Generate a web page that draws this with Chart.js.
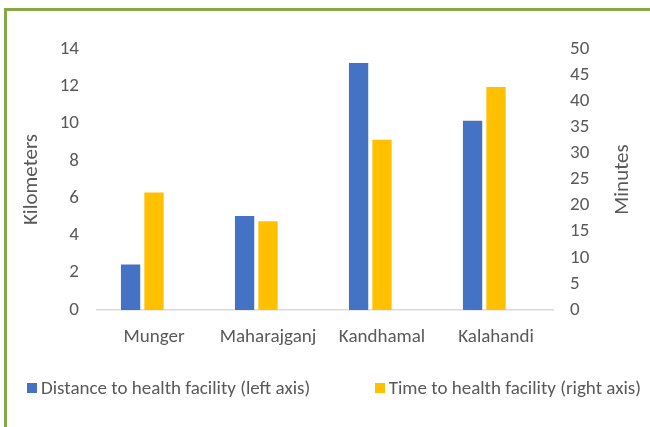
<!DOCTYPE html>
<html>
<head>
<meta charset="utf-8">
<script src="https://cdn.jsdelivr.net/npm/chart.js@4/dist/chart.umd.min.js"></script>
<style>
  body { margin: 0; background: #fff; }
  #wrap { position: relative; width: 650px; height: 427px; overflow: hidden; background: #fff; }
  #frame { position: absolute; left: 4px; top: 8px; right: -10px; bottom: -10px;
           border-top: 3px solid #86a844; border-left: 3px solid #86a844; }
  #chart { position: absolute; left: 0; top: 0; }
  #legend { position: absolute; left: 27px; right: 9px; top: 376px; display: flex;
            justify-content: space-between; font-family: Carlito, Calibri, Lato, sans-serif;
            font-size: 19px; color: #595959; }
  .item { display: flex; align-items: center; white-space: nowrap; }
  .box { width: 10px; height: 10px; margin-right: 4px; }
</style>
</head>
<body>
<div id="wrap">
  <div id="frame"></div>
  <canvas id="chart" width="650" height="427"></canvas>
  <div id="legend"></div>
</div>
<script>
const districts = ["Munger", "Maharajganj", "Kandhamal", "Kalahandi"];
const distanceKm = [2.5, 5.1, 13.3, 10.2];
const timeMin = [22.7, 17.2, 32.8, 42.9];
const kmTicks = [0, 2, 4, 6, 8, 10, 12, 14];
const minTicks = [0, 5, 10, 15, 20, 25, 30, 35, 40, 45, 50];

const FONT = "Carlito, Calibri, Lato, sans-serif";
const TEXT = "#595959";

// right axis title reads bottom-to-top like the left one
const rightTitle = {
  id: "rightTitle",
  afterDraw(chart) {
    const { ctx, chartArea } = chart;
    ctx.save();
    ctx.translate(623, (chartArea.top + chartArea.bottom) / 2);
    ctx.rotate(-Math.PI / 2);
    ctx.font = "21px " + FONT;
    ctx.fillStyle = TEXT;
    ctx.textAlign = "center";
    ctx.textBaseline = "middle";
    ctx.fillText("Minutes", 0, 0);
    ctx.restore();
  },
};

try {
  const ctx = document.getElementById("chart").getContext("2d");
  const chart = new Chart(ctx, {
    type: "bar",
    data: {
      labels: districts,
      datasets: [
        {
          label: "Distance to health facility (left axis)",
          data: distanceKm,
          yAxisID: "yKm",
          backgroundColor: "#4472C4",
          borderColor: "rgba(255,255,255,0.5)",
          borderWidth: 1,
        },
        {
          label: "Time to health facility (right axis)",
          data: timeMin,
          yAxisID: "yMin",
          backgroundColor: "#FFC000",
          borderColor: "rgba(255,255,255,0.5)",
          borderWidth: 1,
        },
        {
          // empty third series, keeps the bars left of the category centre like the original
          label: "",
          data: districts.map(() => null),
          yAxisID: "yKm",
        },
      ],
    },
    options: {
      responsive: false,
      devicePixelRatio: 1,
      animation: false,
      layout: { padding: { top: 49, bottom: 67, left: 0, right: 0 } },
      datasets: { bar: { categoryPercentage: 0.616, barPercentage: 0.91 } },
      plugins: { legend: { display: false }, tooltip: { enabled: false } },
      scales: {
        x: {
          grid: { display: false, drawTicks: false },
          border: { display: true, color: "#D9D9D9", width: 1.5 },
          ticks: { color: TEXT, font: { family: FONT, size: 19 }, padding: 16 },
          afterFit: (s) => { s.height = 50; },
        },
        yKm: {
          position: "left",
          min: 0,
          max: 14,
          afterBuildTicks: (s) => { s.ticks = kmTicks.map((v) => ({ value: v })); },
          grid: { display: false, drawTicks: false },
          border: { display: false },
          ticks: { color: TEXT, font: { family: FONT, size: 19 }, padding: 18 },
          title: {
            display: true, text: "Kilometers", color: TEXT,
            font: { family: FONT, size: 21 }, padding: { top: 19, bottom: 0 },
          },
          afterFit: (s) => { s.width = 97; },
        },
        yMin: {
          position: "right",
          min: 0,
          max: 50,
          afterBuildTicks: (s) => { s.ticks = minTicks.map((v) => ({ value: v })); },
          grid: { display: false, drawTicks: false },
          border: { display: false },
          ticks: { color: TEXT, font: { family: FONT, size: 19 }, padding: 17 },
          afterFit: (s) => { s.width = 97; },
        },
      },
    },
    plugins: [rightTitle],
  });

  // html legend from the first two series
  const legend = document.getElementById("legend");
  chart.data.datasets.slice(0, 2).forEach((ds) => {
    const item = document.createElement("div");
    item.className = "item";
    const box = document.createElement("span");
    box.className = "box";
    box.style.background = ds.backgroundColor;
    const txt = document.createElement("span");
    txt.textContent = ds.label;
    item.appendChild(box);
    item.appendChild(txt);
    legend.appendChild(item);
  });
} catch (e) {
  console.error("chart error:", e);
}
</script>
</body>
</html>
